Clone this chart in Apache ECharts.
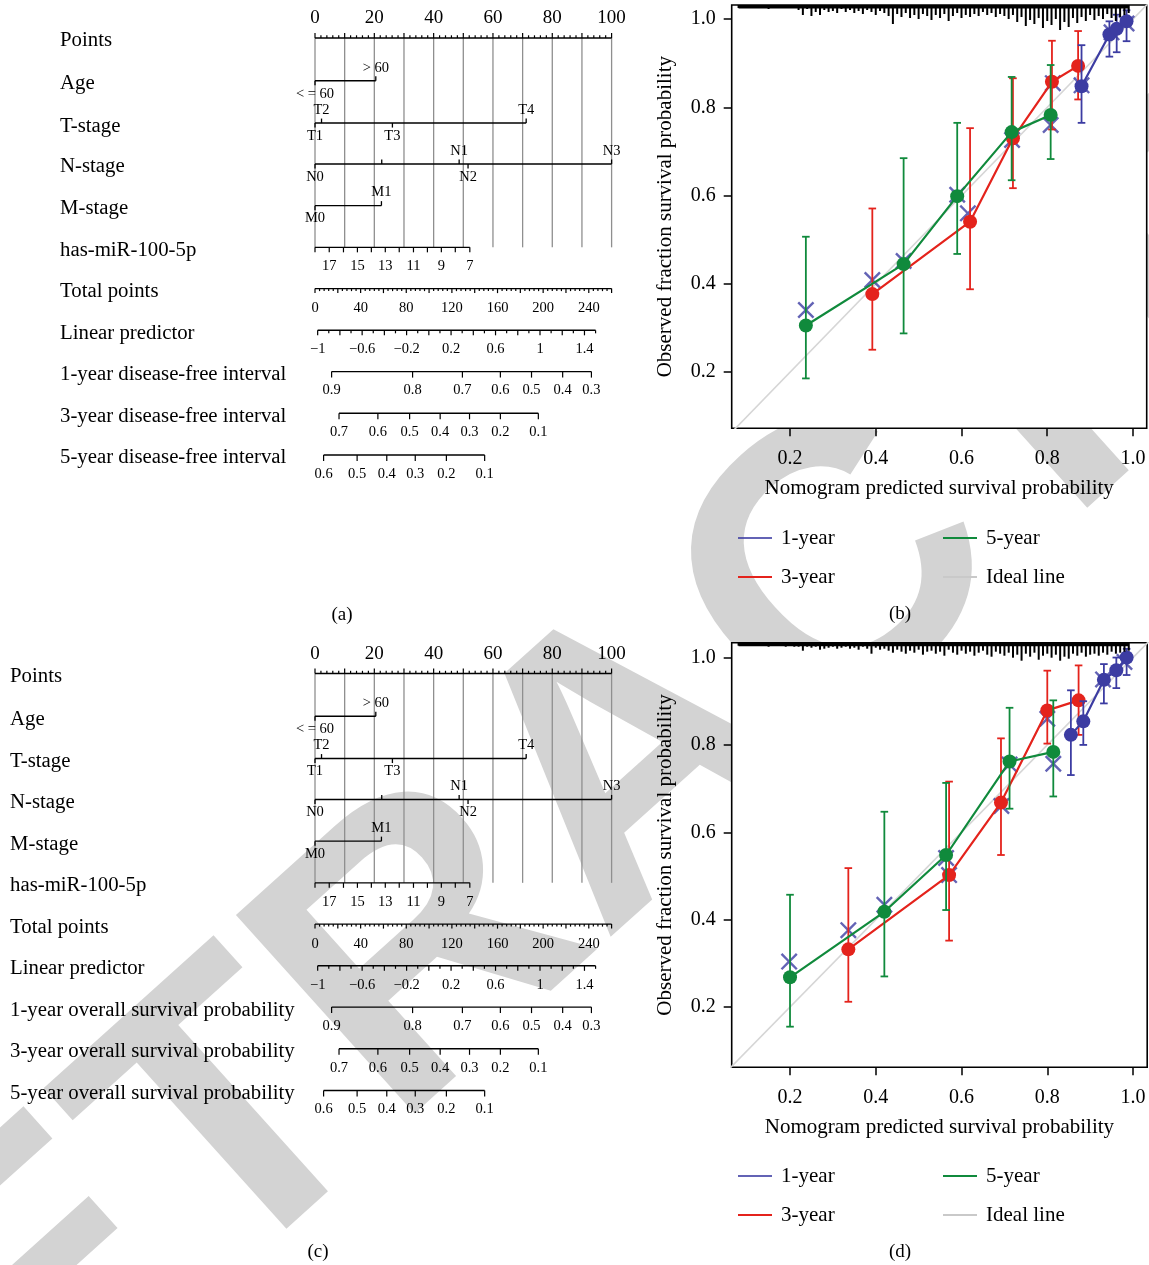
<!DOCTYPE html>
<html><head><meta charset="utf-8">
<script src="https://cdn.jsdelivr.net/npm/echarts@6/dist/echarts.min.js"></script>
<style>html,body{margin:0;padding:0;background:#fff}#c{width:1149px;height:1265px}</style>
</head><body><div id="c"></div>
<script>
// ================= DATA =================
// Nomogram (panels a and c share the same scales)
const pointsLabels = [0, 20, 40, 60, 80, 100];
const ageLevels = ['< = 60', '> 60'];
const agePoints = [0, 20.5];
const tLevels = ['T1', 'T2', 'T3', 'T4'];
const tPoints = [0, 2.2, 26.1, 71.2];
const nLevels = ['N0', '', 'N1', 'N2', 'N3'];
const nPoints = [0, 22.5, 48.6, 51.6, 100];
const mLevels = ['M0', 'M1'];
const mPoints = [0, 22.4];
const mirValues = [18, 17, 16, 15, 14, 13, 12, 11, 10, 9, 8, 7];
const mirPoints = [0, 4.8, 9.6, 14.3, 19.0, 23.7, 28.4, 33.2, 37.9, 42.6, 47.3, 52.2];
const mirLabelValues = [17, 15, 13, 11, 9, 7];
const totalPointsLabels = [0, 40, 80, 120, 160, 200, 240];
const totalPointsRange = [0, 260];
const lpLabels = [-1, -0.6, -0.2, 0.2, 0.6, 1, 1.4];
const lpRange = [-1, 1.5];
const lpPointsRange = [0.9, 94.6];
const surv1Labels = [0.9, 0.8, 0.7, 0.6, 0.5, 0.4, 0.3];
const surv1Points = [5.6, 32.9, 49.7, 62.5, 73.0, 83.5, 93.2];
const surv3Labels = [0.7, 0.6, 0.5, 0.4, 0.3, 0.2, 0.1];
const surv3Points = [8.1, 21.2, 31.9, 42.2, 52.1, 62.5, 75.3];
const surv5Labels = [0.6, 0.5, 0.4, 0.3, 0.2, 0.1];
const surv5Points = [2.9, 14.2, 24.2, 33.8, 44.3, 57.2];

const rowNamesA = ['Points', 'Age', 'T-stage', 'N-stage', 'M-stage', 'has-miR-100-5p', 'Total points',
  'Linear predictor', '1-year disease-free interval', '3-year disease-free interval', '5-year disease-free interval'];
const rowNamesC = ['Points', 'Age', 'T-stage', 'N-stage', 'M-stage', 'has-miR-100-5p', 'Total points',
  'Linear predictor', '1-year overall survival probability', '3-year overall survival probability', '5-year overall survival probability'];

// Calibration (b): disease-free interval
const calB5 = [[0.237, 0.306], [0.465, 0.445], [0.590, 0.599], [0.717, 0.744], [0.808, 0.783]];
const calB5Err = [[0.186, 0.507], [0.288, 0.685], [0.468, 0.765], [0.635, 0.869], [0.683, 0.896]];
const calB3 = [[0.392, 0.377], [0.620, 0.541], [0.720, 0.730], [0.811, 0.858], [0.872, 0.894]];
const calB3Err = [[0.251, 0.571], [0.388, 0.753], [0.617, 0.866], [0.750, 0.951], [0.818, 0.973]];
const calB1 = [[0.880, 0.848], [0.945, 0.965], [0.962, 0.978], [0.985, 0.995]];
const calB1Err = [[0.765, 0.941], [0.915, 0.995], [0.925, 1.010], [0.950, 1.020]];
const calBX = [[0.237, 0.341], [0.392, 0.409], [0.465, 0.452], [0.590, 0.602], [0.615, 0.560], [0.718, 0.726],
  [0.808, 0.760], [0.813, 0.855], [0.880, 0.850], [0.950, 0.970], [0.985, 0.990]];

// Calibration (d): overall survival
const calD5 = [[0.200, 0.268], [0.420, 0.418], [0.564, 0.548], [0.712, 0.762], [0.814, 0.784]];
const calD5Err = [[0.155, 0.457], [0.270, 0.647], [0.422, 0.713], [0.654, 0.885], [0.682, 0.902]];
const calD3 = [[0.336, 0.332], [0.571, 0.502], [0.692, 0.668], [0.800, 0.879], [0.873, 0.902]];
const calD3Err = [[0.212, 0.518], [0.352, 0.716], [0.548, 0.815], [0.803, 0.970], [0.823, 0.982]];
const calD1 = [[0.855, 0.823], [0.884, 0.854], [0.932, 0.949], [0.961, 0.971], [0.985, 1.000]];
const calD1Err = [[0.731, 0.925], [0.800, 0.900], [0.895, 0.985], [0.930, 1.000], [0.960, 1.020]];
const calDX = [[0.198, 0.304], [0.336, 0.376], [0.420, 0.434], [0.564, 0.541], [0.571, 0.502], [0.693, 0.660],
  [0.712, 0.755], [0.814, 0.757], [0.800, 0.860], [0.930, 0.950], [0.980, 0.990]];

const calTicks = [0.2, 0.4, 0.6, 0.8, 1.0];

// spike histogram of predicted probabilities (top rug)
const rugX = [0.08,0.09,0.10,0.11,0.12,0.13,0.14,0.15,0.16,0.17,0.18,0.19,0.20,0.21,0.22,0.23,0.24,0.25,0.26,0.27,
  0.28,0.29,0.30,0.31,0.32,0.33,0.34,0.35,0.36,0.37,0.38,0.39,0.40,0.41,0.42,0.43,0.44,0.45,0.46,0.47,0.48,0.49,
  0.50,0.51,0.52,0.53,0.54,0.55,0.56,0.57,0.58,0.59,0.60,0.61,0.62,0.63,0.64,0.65,0.66,0.67,0.68,0.69,0.70,0.71,
  0.72,0.73,0.74,0.75,0.76,0.77,0.78,0.79,0.80,0.81,0.82,0.83,0.84,0.85,0.86,0.87,0.88,0.89,0.90,0.91,0.92,0.93,
  0.94,0.95,0.96,0.97,0.98,0.99];
const rugB = [2,2,1,2,2,1,2,3,2,1,2,2,1,2, 4,9,3,10,6,9,4,6,5,7,3, 6,4,7,5,8,4,6,9,5,7, 10,18,8,11,7,12,9,13,8,10,
  14,9,12,8,15,10,7,12,9,11, 8,10,6,9,7,11,8,10,13,9, 16,11,20,14,18,12,22,15,19,13, 24,16,21,12,17,11,15,9,14,10,
  13,8,12,15,11,9,7];
const rugD = [2,1,2,2,1,2,2,3,1,2,2,3,2,3, 3,7,3,4,3,6,5,4,3,5,4, 3,5,4,6,3,5,10,4,6,5, 7,9,6,8,10,7,9,6,11,8,
  7,10,8,12,6,9,11,7,10,8, 12,9,7,11,13,8,10,12,9,14, 11,17,10,13,9,16,12,10,14,11, 17,13,15,10,12,9,13,11,10,12,
  9,11,8,10,9,8,7];

// ================= LAYOUT / STYLE =================
const SERIF = '"Liberation Serif", "Times New Roman", serif';
const BLUE = '#3c3ca2', RED = '#e4231c', GREEN = '#108a3c', IDEAL = '#d6d6d6';
const rowPos = [0, 1.025, 2.04, 3.02, 4.02, 5.02, 6.01, 7.01, 8.0, 9.0, 10];
const ageSides = [-1, 1], tSides = [-1, 1, -1, 1], nSides = [-1, 1, 1, -1, 1], mSides = [-1, 1];

function linMap(v, r, p) { return p[0] + (v - r[0]) / (r[1] - r[0]) * (p[1] - p[0]); }
function fmt(v) { const s = String(Math.round(v * 100) / 100); return v < 0 ? '\u2212' + s.slice(1) : s; }

function buildRows() {
  const rows = [];
  rows.push({kind: 'points'});
  rows.push({kind: 'levels', pts: agePoints, labels: ageLevels, sides: ageSides});
  rows.push({kind: 'levels', pts: tPoints, labels: tLevels, sides: tSides});
  rows.push({kind: 'levels', pts: nPoints, labels: nLevels, sides: nSides});
  rows.push({kind: 'levels', pts: mPoints, labels: mLevels, sides: mSides});
  rows.push({kind: 'scale', ticks: mirPoints.map(p => ({p, len: 5})),
    labels: mirValues.map((v, i) => mirLabelValues.indexOf(v) >= 0 ? {p: mirPoints[i], t: String(v)} : null).filter(Boolean), dy: 19});
  const tt = [];
  for (let t = totalPointsRange[0]; t <= totalPointsRange[1]; t += 4) tt.push({p: linMap(t, totalPointsRange, [0, 100]), len: t % 20 === 0 ? 4.5 : 2.5});
  rows.push({kind: 'scale', ticks: tt, labels: totalPointsLabels.map(t => ({p: linMap(t, totalPointsRange, [0, 100]), t: String(t)})), dy: 20});
  const lt = [];
  for (let k = 0; k <= 25; k++) { const v = lpRange[0] + k * 0.1; lt.push({p: linMap(v, lpRange, lpPointsRange), len: k % 2 === 0 ? 5 : 3}); }
  rows.push({kind: 'scale', ticks: lt, labels: lpLabels.map(v => ({p: linMap(v, lpRange, lpPointsRange), t: fmt(v)})), dy: 19});
  [[surv1Points, surv1Labels], [surv3Points, surv3Labels], [surv5Points, surv5Labels]].forEach(([pp, ll]) => {
    rows.push({kind: 'scale', ticks: pp.map(p => ({p, len: 6})), labels: pp.map((p, i) => ({p, t: String(ll[i])})), dy: 19});
  });
  return rows;
}
const ROWS = buildRows();

function nomoSeries(gi, names, labelX) {
  return {
    type: 'custom', xAxisIndex: gi, yAxisIndex: gi, silent: true, z: 5,
    data: names.map((n, i) => [50, rowPos[i], i]),
    encode: {x: 0, y: 1},
    renderItem: function (params, api) {
      const idx = api.value(2), yv = api.value(1);
      const X = v => api.coord([v, yv])[0];
      const y0 = api.coord([0, yv])[1];
      const ch = [];
      const line = (x1, y1, x2, y2, c, w) => ch.push({type: 'line', shape: {x1, y1, x2, y2}, style: {stroke: c || '#000', lineWidth: w || 1.4}});
      const text = (t, x, y, size, align) => ch.push({type: 'text', x, y, style: {text: t, font: size + 'px ' + SERIF, fill: '#000', align: align || 'center', verticalAlign: 'middle'}});
      text(names[idx], labelX, y0 + 3, 20.8, 'left');
      const row = ROWS[idx];
      if (row.kind === 'points') {
        const yb = api.coord([0, rowPos[5]])[1];
        for (let v = 0; v <= 100; v += 10) line(X(v), y0, X(v), yb, '#8f8f8f', 1.3);
        line(X(0), y0, X(100), y0);
        for (let v = 0; v <= 100; v += 2) line(X(v), y0, X(v), y0 - (v % 10 === 0 ? 5 : 2.7), '#000', 1.2);
        pointsLabels.forEach(v => text(String(v), X(v), y0 - 19.5, 19));
      } else if (row.kind === 'levels') {
        line(X(Math.min.apply(null, row.pts)), y0, X(Math.max.apply(null, row.pts)), y0);
        row.pts.forEach((p, i) => {
          const s = row.sides[i];
          line(X(p), y0, X(p), y0 - s * 4.5, '#000', 1.3);
          if (row.labels[i]) text(row.labels[i], X(p), y0 - s * 13, 14.5);
        });
      } else {
        const ps = row.ticks.map(t => t.p);
        line(X(Math.min.apply(null, ps)), y0, X(Math.max.apply(null, ps)), y0);
        row.ticks.forEach(t => line(X(t.p), y0, X(t.p), y0 + t.len, '#000', 1.2));
        row.labels.forEach(l => text(l.t, X(l.p), y0 + row.dy, 14.5));
      }
      return {type: 'group', children: ch};
    }
  };
}

const XSYM = 'path://M2,0 L10,8 L18,0 L20,2 L12,10 L20,18 L18,20 L10,12 L2,20 L0,18 L8,10 L0,2 Z';

function errSeries(name, color, pts, err, gi, z) {
  return {
    type: 'custom', name, xAxisIndex: gi, yAxisIndex: gi, silent: true, z,
    data: pts.map((p, i) => [p[0], err[i][0], err[i][1]]),
    encode: {x: 0, y: [1, 2]},
    renderItem: function (params, api) {
      const lo = api.coord([api.value(0), api.value(1)]), hi = api.coord([api.value(0), api.value(2)]);
      const w = 3.8, st = {stroke: color, lineWidth: 1.8};
      return {type: 'group', children: [
        {type: 'line', shape: {x1: lo[0], y1: lo[1], x2: hi[0], y2: hi[1]}, style: st},
        {type: 'line', shape: {x1: lo[0] - w, y1: lo[1], x2: lo[0] + w, y2: lo[1]}, style: st},
        {type: 'line', shape: {x1: hi[0] - w, y1: hi[1], x2: hi[0] + w, y2: hi[1]}, style: st}
      ]};
    }
  };
}
function lineSeries(name, color, pts, gi, z) {
  return {type: 'line', name, xAxisIndex: gi, yAxisIndex: gi, data: pts, symbol: 'circle', symbolSize: 14,
    showSymbol: true, lineStyle: {color, width: 2.2}, itemStyle: {color}, z, silent: true};
}
function xSeries(pts, gi, z) {
  return {type: 'scatter', name: '1-year', xAxisIndex: gi, yAxisIndex: gi, data: pts, symbol: XSYM, symbolSize: 17,
    itemStyle: {color: BLUE}, z, silent: true};
}
function rugSeries(gi, hs) {
  return {
    type: 'custom', xAxisIndex: gi, yAxisIndex: gi, silent: true, z: 10,
    data: rugX.map((x, i) => [x, 1.0, hs[i]]),
    encode: {x: 0, y: 1},
    renderItem: function (params, api) {
      const cs = params.coordSys;
      const x = api.coord([api.value(0), 1.0])[0];
      const ch = [{type: 'line', shape: {x1: x, y1: cs.y, x2: x, y2: cs.y + api.value(2) + 1}, style: {stroke: '#000', lineWidth: 2}}];
      if (params.dataIndex === 0) {
        const xe = api.coord([rugX[rugX.length - 1], 1.0])[0];
        ch.push({type: 'rect', shape: {x: x, y: cs.y, width: xe - x, height: 3.5}, style: {fill: '#000'}});
      }
      return {type: 'group', children: ch};
    }
  };
}
function idealSeries(gi) {
  return {type: 'line', name: 'Ideal line', xAxisIndex: gi, yAxisIndex: gi, data: [[0, 0], [1.1, 1.1]], symbol: 'none',
    lineStyle: {color: IDEAL, width: 1.6}, itemStyle: {color: IDEAL}, z: 1, silent: true, clip: true};
}

function calX(gi, min, max) {
  return {type: 'value', gridIndex: gi, min, max, axisLine: {show: false}, splitLine: {show: false},
    axisTick: {show: true, length: 8, customValues: calTicks, lineStyle: {color: '#000', width: 1.5}},
    axisLabel: {customValues: calTicks, formatter: v => v.toFixed(1), margin: 20, fontSize: 20, fontFamily: SERIF, color: '#000'},
    name: 'Nomogram predicted survival probability', nameLocation: 'middle', nameGap: 50,
    nameTextStyle: {fontSize: 21, fontFamily: SERIF, color: '#000'}};
}
function calY(gi, min, max) {
  return {type: 'value', gridIndex: gi, min, max, axisLine: {show: false}, splitLine: {show: false},
    axisTick: {show: true, length: 8, customValues: calTicks, lineStyle: {color: '#000', width: 1.5}},
    axisLabel: {customValues: calTicks, formatter: v => v.toFixed(1), margin: 16, fontSize: 20, fontFamily: SERIF, color: '#000'},
    name: 'Observed fraction survival probability', nameLocation: 'middle', nameGap: 56,
    nameTextStyle: {fontSize: 21, fontFamily: SERIF, color: '#000'}};
}
function legends(top) {
  const ts = {fontSize: 21, fontFamily: SERIF, color: '#000', lineHeight: 24, padding: [0, 0, 0, 4]};
  const base = {orient: 'vertical', top, itemWidth: 34, itemHeight: 2, itemGap: 15, icon: 'rect', selectedMode: false, textStyle: ts};
  return [
    Object.assign({}, base, {left: 733, data: [{name: '1-year', itemStyle: {color: BLUE}}, {name: '3-year', itemStyle: {color: RED}}]}),
    Object.assign({}, base, {left: 938, data: [{name: '5-year', itemStyle: {color: GREEN}}, {name: 'Ideal line', itemStyle: {color: '#c9c9c9'}}]})
  ];
}
function calSeries(gi, c5, c5e, c3, c3e, c1, c1e, cx, rug) {
  return [
    idealSeries(gi),
    xSeries(cx, gi, 2),
    errSeries('3-year', RED, c3, c3e, gi, 3), lineSeries('3-year', RED, c3, gi, 4),
    errSeries('5-year', GREEN, c5, c5e, gi, 5), lineSeries('5-year', GREEN, c5, gi, 6),
    errSeries('1-year', BLUE, c1, c1e, gi, 7), lineSeries('1-year', BLUE, c1, gi, 8),
    rugSeries(gi, rug)
  ];
}

const option = {
  animation: false,
  backgroundColor: '#fff',
  grid: [
    {left: 315, width: 296.6, top: 38, height: 417},
    {left: 315, width: 296.6, top: 673.5, height: 417},
    {left: 731.7, width: 415, top: 5, height: 423.3, show: true, borderColor: '#000', borderWidth: 1.6, backgroundColor: '#fff'},
    {left: 731.7, width: 415.5, top: 642.7, height: 424.6, show: true, borderColor: '#000', borderWidth: 1.6, backgroundColor: '#fff'}
  ],
  xAxis: [
    {type: 'value', gridIndex: 0, min: 0, max: 100, show: false},
    {type: 'value', gridIndex: 1, min: 0, max: 100, show: false},
    calX(2, 0.064, 1.032),
    calX(3, 0.064, 1.033)
  ],
  yAxis: [
    {type: 'value', gridIndex: 0, min: 0, max: 10, inverse: true, show: false},
    {type: 'value', gridIndex: 1, min: 0, max: 10, inverse: true, show: false},
    calY(2, 0.073, 1.032),
    calY(3, 0.062, 1.034)
  ],
  legend: legends(521).concat(legends(1159)),
  graphic: {elements: [
    {type: 'text', z: -100, x: 636, y: 770, rotation: 42 * Math.PI / 180, silent: true,
      style: {text: 'RETRACTED', font: 'bold 388px "Liberation Sans", Arial, sans-serif', fill: '#d3d3d3',
        align: 'center', verticalAlign: 'middle', textAlign: 'center', textVerticalAlign: 'middle'}},
    {type: 'text', x: 342, y: 615, style: {text: '(a)', font: '19px ' + SERIF, fill: '#000', align: 'center', verticalAlign: 'middle', textAlign: 'center', textVerticalAlign: 'middle'}},
    {type: 'text', x: 900, y: 614, style: {text: '(b)', font: '19px ' + SERIF, fill: '#000', align: 'center', verticalAlign: 'middle', textAlign: 'center', textVerticalAlign: 'middle'}},
    {type: 'text', x: 318, y: 1252, style: {text: '(c)', font: '19px ' + SERIF, fill: '#000', align: 'center', verticalAlign: 'middle', textAlign: 'center', textVerticalAlign: 'middle'}},
    {type: 'text', x: 900, y: 1252, style: {text: '(d)', font: '19px ' + SERIF, fill: '#000', align: 'center', verticalAlign: 'middle', textAlign: 'center', textVerticalAlign: 'middle'}}
  ]},
  series: [
    nomoSeries(0, rowNamesA, 60),
    nomoSeries(1, rowNamesC, 10)
  ].concat(calSeries(2, calB5, calB5Err, calB3, calB3Err, calB1, calB1Err, calBX, rugB))
   .concat(calSeries(3, calD5, calD5Err, calD3, calD3Err, calD1, calD1Err, calDX, rugD))
};
const chart = echarts.init(document.getElementById('c'), null, {renderer: 'canvas', width: 1149, height: 1265});
chart.setOption(option);
</script>
</body></html>
